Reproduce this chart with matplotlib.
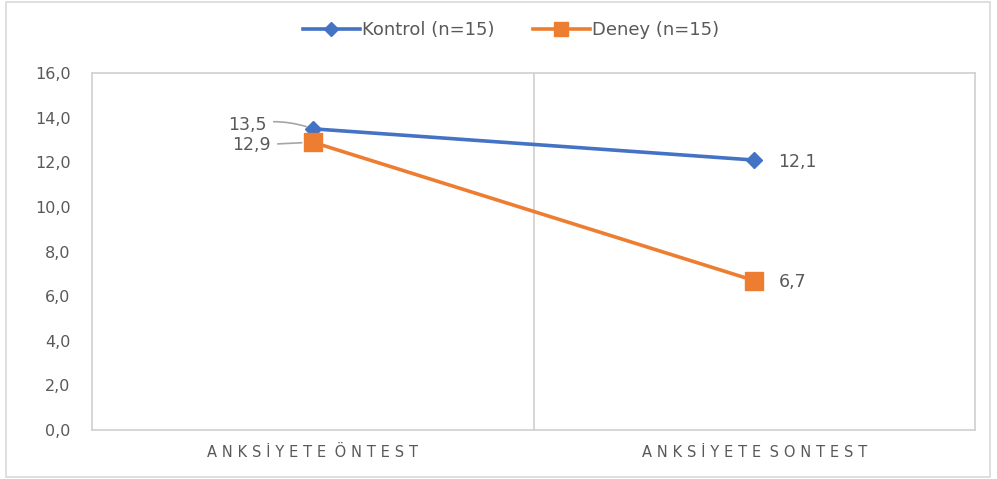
import matplotlib
matplotlib.use("Agg")
import matplotlib.pyplot as plt
from matplotlib.patches import Rectangle

categories = ["ANKSİYETE ÖNTEST", "ANKSİYETE SONTEST"]
kontrol = [13.5, 12.1]
deney = [12.9, 6.7]
kontrol_label = "Kontrol (n=15)"
deney_label = "Deney (n=15)"
yticks = [0, 2, 4, 6, 8, 10, 12, 14, 16]

plt.rcParams['font.family'] = ['DejaVu Sans']
GRAY = '#595959'
LINE = '#d0d0d0'
BLUE = '#4472C4'
ORANGE = '#ED7D31'

fig = plt.figure(figsize=(9.97, 4.79), dpi=100)
fig.patches.append(Rectangle((0.006, 0.004), 0.987, 0.992, transform=fig.transFigure,
                             fill=False, edgecolor='#d9d9d9', linewidth=1.2))
ax = fig.add_axes([0.0923, 0.102, 0.8857, 0.7456])

x = [0.5, 1.5]
ax.plot(x, kontrol, color=BLUE, lw=2.6, marker='D', ms=8, label=kontrol_label, zorder=3)
ax.plot(x, deney, color=ORANGE, lw=2.6, marker='s', ms=12.5, label=deney_label, zorder=3)

ax.set_xlim(0, 2)
ax.set_ylim(0, 16)
ax.set_yticks(yticks)
ax.set_yticklabels([f"{v:.1f}".replace('.', ',') for v in yticks], color=GRAY, fontsize=11.5)
ax.tick_params(axis='y', length=0, pad=15.5)
ax.set_xticks(x)
spaced = ["\u2004".join(list(c)).replace("\u2004 \u2004", "\u2004\u2005") for c in categories]
ax.set_xticklabels(spaced, color=GRAY, fontsize=10.5)
ax.tick_params(axis='x', length=0, pad=11)
for s in ax.spines.values():
    s.set_color(LINE)
    s.set_linewidth(1.2)
ax.axvline(1.0, color=LINE, lw=1.2, zorder=1)

def fmt(v):
    return f"{v:.1f}".replace('.', ',')

LBL = 12.5
ax.annotate(fmt(kontrol[0]), xy=(x[0], kontrol[0]), xytext=(-46, 4), textcoords='offset pixels',
            ha='right', va='center', color=GRAY, fontsize=LBL,
            arrowprops=dict(arrowstyle='-', color='#a6a6a6', lw=1.2, shrinkA=3, shrinkB=5,
                            connectionstyle='arc3,rad=-0.15'))
ax.annotate(fmt(deney[0]), xy=(x[0], deney[0]), xytext=(-42, -3), textcoords='offset pixels',
            ha='right', va='center', color=GRAY, fontsize=LBL,
            arrowprops=dict(arrowstyle='-', color='#a6a6a6', lw=1.2, shrinkA=3, shrinkB=8))
ax.annotate(fmt(kontrol[1]), xy=(x[1], kontrol[1]), xytext=(24, -2), textcoords='offset pixels',
            ha='left', va='center', color=GRAY, fontsize=LBL)
ax.annotate(fmt(deney[1]), xy=(x[1], deney[1]), xytext=(24, -1), textcoords='offset pixels',
            ha='left', va='center', color=GRAY, fontsize=LBL)

leg = fig.legend(loc='center', bbox_to_anchor=(0.5125, 0.937), ncol=2, frameon=False,
                 fontsize=13, handlelength=3.2, columnspacing=2.1, handletextpad=0.1,
                 markerscale=0.85)
for t in leg.get_texts():
    t.set_color(GRAY)

fig.savefig("out.png", dpi=100)
